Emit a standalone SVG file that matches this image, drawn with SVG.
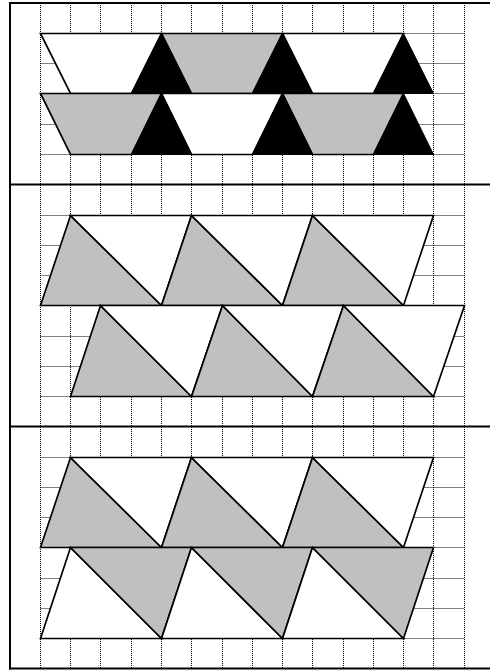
<svg xmlns="http://www.w3.org/2000/svg" width="490" height="671" viewBox="0 0 490 671">
<style>
.bg{fill:#ffffff}
.grid{stroke:#000;stroke-width:1;stroke-dasharray:1 1;fill:none}
.frame{stroke:#000;stroke-width:2;fill:none}
.w{fill:#ffffff;stroke:#000;stroke-width:1.7;stroke-linejoin:miter}
.g{fill:#c0c0c0;stroke:#000;stroke-width:1.7;stroke-linejoin:miter}
.k{fill:#000;stroke:#000;stroke-width:1;stroke-linejoin:miter}
</style>
<rect class="bg" x="0" y="0" width="490" height="671"/>
<g id="grid" class="grid">
<line x1="40.5" y1="3" x2="40.5" y2="668"/>
<line x1="70.5" y1="3" x2="70.5" y2="668"/>
<line x1="100.5" y1="3" x2="100.5" y2="668"/>
<line x1="131.5" y1="3" x2="131.5" y2="668"/>
<line x1="161.5" y1="3" x2="161.5" y2="668"/>
<line x1="191.5" y1="3" x2="191.5" y2="668"/>
<line x1="222.5" y1="3" x2="222.5" y2="668"/>
<line x1="252.5" y1="3" x2="252.5" y2="668"/>
<line x1="282.5" y1="3" x2="282.5" y2="668"/>
<line x1="312.5" y1="3" x2="312.5" y2="668"/>
<line x1="343.5" y1="3" x2="343.5" y2="668"/>
<line x1="373.5" y1="3" x2="373.5" y2="668"/>
<line x1="403.5" y1="3" x2="403.5" y2="668"/>
<line x1="433.5" y1="3" x2="433.5" y2="668"/>
<line x1="464.5" y1="3" x2="464.5" y2="668"/>
<line x1="40.5" y1="33.5" x2="464.5" y2="33.5"/>
<line x1="40.5" y1="63.5" x2="464.5" y2="63.5"/>
<line x1="40.5" y1="93.5" x2="464.5" y2="93.5"/>
<line x1="40.5" y1="124.5" x2="464.5" y2="124.5"/>
<line x1="40.5" y1="154.5" x2="464.5" y2="154.5"/>
<line x1="40.5" y1="215.5" x2="464.5" y2="215.5"/>
<line x1="40.5" y1="245.5" x2="464.5" y2="245.5"/>
<line x1="40.5" y1="275.5" x2="464.5" y2="275.5"/>
<line x1="40.5" y1="305.5" x2="464.5" y2="305.5"/>
<line x1="40.5" y1="336.5" x2="464.5" y2="336.5"/>
<line x1="40.5" y1="366.5" x2="464.5" y2="366.5"/>
<line x1="40.5" y1="396.5" x2="464.5" y2="396.5"/>
<line x1="40.5" y1="457.5" x2="464.5" y2="457.5"/>
<line x1="40.5" y1="487.5" x2="464.5" y2="487.5"/>
<line x1="40.5" y1="517.5" x2="464.5" y2="517.5"/>
<line x1="40.5" y1="547.5" x2="464.5" y2="547.5"/>
<line x1="40.5" y1="578.5" x2="464.5" y2="578.5"/>
<line x1="40.5" y1="608.5" x2="464.5" y2="608.5"/>
<line x1="40.5" y1="638.5" x2="464.5" y2="638.5"/>
</g>
<g id="frame" class="frame">
<line x1="10" y1="2" x2="10" y2="669.5"/>
<line x1="9" y1="3" x2="490" y2="3"/>
<line x1="9" y1="668.5" x2="490" y2="668.5"/>
<line x1="9" y1="184.5" x2="490" y2="184.5"/>
<line x1="9" y1="426.5" x2="490" y2="426.5"/>
</g>
<g id="section1">
<g id="rowA">
<polygon class="w" points="40.5,33.5 161.5,33.5 131.5,93.5 70.5,93.5"/>
<polygon class="g" points="161.5,33.5 282.5,33.5 252.5,93.5 191.5,93.5"/>
<polygon class="w" points="282.5,33.5 403.5,33.5 373.5,93.5 312.5,93.5"/>
<polygon class="k" points="161.5,33.5 191.5,93.5 131.5,93.5"/>
<polygon class="k" points="282.5,33.5 312.5,93.5 252.5,93.5"/>
<polygon class="k" points="403.5,33.5 433.5,93.5 373.5,93.5"/>
</g>
<g id="rowB">
<polygon class="g" points="40.5,93.5 161.5,93.5 131.5,154.5 70.5,154.5"/>
<polygon class="w" points="161.5,93.5 282.5,93.5 252.5,154.5 191.5,154.5"/>
<polygon class="g" points="282.5,93.5 403.5,93.5 373.5,154.5 312.5,154.5"/>
<polygon class="k" points="161.5,93.5 191.5,154.5 131.5,154.5"/>
<polygon class="k" points="282.5,93.5 312.5,154.5 252.5,154.5"/>
<polygon class="k" points="403.5,93.5 433.5,154.5 373.5,154.5"/>
</g>
</g>
<g id="section2">
<g id="rowC">
<polygon class="g" points="70.5,215.5 161.5,305.5 40.5,305.5"/>
<polygon class="w" points="70.5,215.5 191.5,215.5 161.5,305.5"/>
<polygon class="g" points="191.5,215.5 282.5,305.5 161.5,305.5"/>
<polygon class="w" points="191.5,215.5 312.5,215.5 282.5,305.5"/>
<polygon class="g" points="312.5,215.5 403.5,305.5 282.5,305.5"/>
<polygon class="w" points="312.5,215.5 433.5,215.5 403.5,305.5"/>
</g>
<g id="rowD">
<polygon class="g" points="100.5,305.5 191.5,396.5 70.5,396.5"/>
<polygon class="w" points="100.5,305.5 222.5,305.5 191.5,396.5"/>
<polygon class="g" points="222.5,305.5 312.5,396.5 191.5,396.5"/>
<polygon class="w" points="222.5,305.5 343.5,305.5 312.5,396.5"/>
<polygon class="g" points="343.5,305.5 433.5,396.5 312.5,396.5"/>
<polygon class="w" points="343.5,305.5 464.5,305.5 433.5,396.5"/>
</g>
</g>
<g id="section3">
<g id="rowE">
<polygon class="g" points="70.5,457.5 161.5,547.5 40.5,547.5"/>
<polygon class="w" points="70.5,457.5 191.5,457.5 161.5,547.5"/>
<polygon class="g" points="191.5,457.5 282.5,547.5 161.5,547.5"/>
<polygon class="w" points="191.5,457.5 312.5,457.5 282.5,547.5"/>
<polygon class="g" points="312.5,457.5 403.5,547.5 282.5,547.5"/>
<polygon class="w" points="312.5,457.5 433.5,457.5 403.5,547.5"/>
</g>
<g id="rowF">
<polygon class="w" points="70.5,547.5 161.5,638.5 40.5,638.5"/>
<polygon class="g" points="70.5,547.5 191.5,547.5 161.5,638.5"/>
<polygon class="w" points="191.5,547.5 282.5,638.5 161.5,638.5"/>
<polygon class="g" points="191.5,547.5 312.5,547.5 282.5,638.5"/>
<polygon class="w" points="312.5,547.5 403.5,638.5 282.5,638.5"/>
<polygon class="g" points="312.5,547.5 433.5,547.5 403.5,638.5"/>
</g>
</g>
</svg>
